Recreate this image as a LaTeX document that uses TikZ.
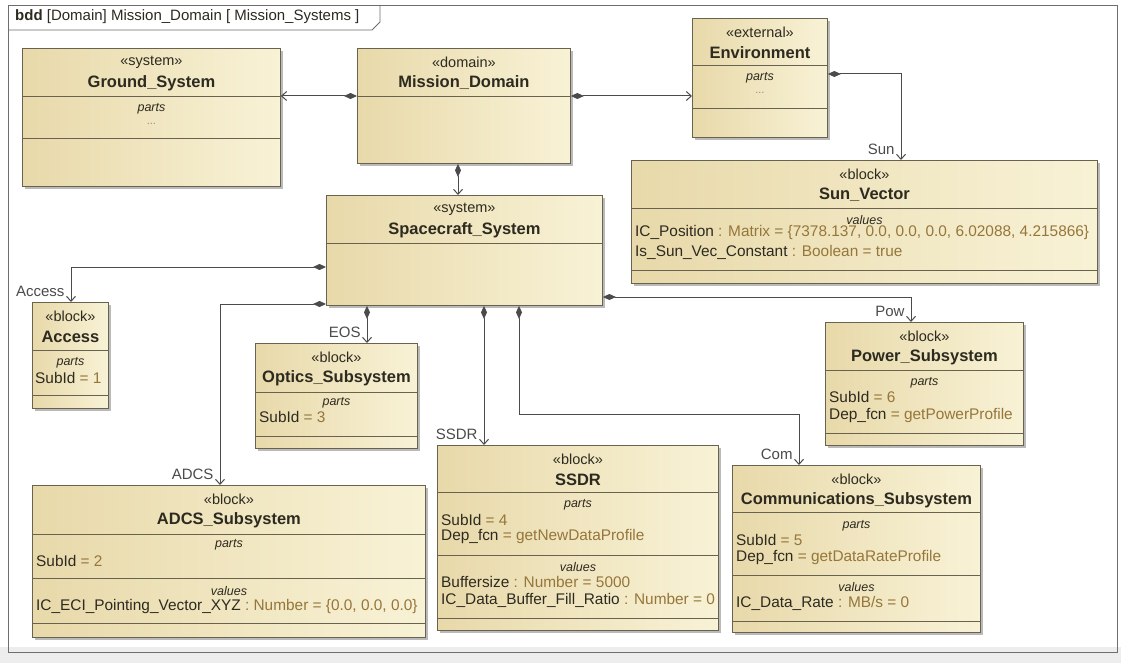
\documentclass[tikz,border=0pt]{standalone}
\usepackage{fontspec}
\setmainfont{Liberation Sans}
\usepackage{xcolor}
\definecolor{bddline}{RGB}{105,98,78}
\definecolor{bddtan}{RGB}{232,217,170}
\definecolor{bddcream}{RGB}{248,242,214}
\definecolor{bddtext}{RGB}{45,42,32}
\definecolor{bddval}{RGB}{150,118,58}
\definecolor{bddlink}{RGB}{75,75,75}
\definecolor{bddframe}{RGB}{110,110,110}
\usetikzlibrary{arrows.meta,positioning,calc,shadows}

\newcommand{\val}[1]{\textcolor{bddval}{#1}}

\tikzset{
  umlbox/.style={draw=bddline, line width=0.9pt, left color=bddtan, right color=bddcream, inner sep=0pt,
    drop shadow={shadow xshift=2.5pt, shadow yshift=-2.5pt, fill=black!45, opacity=0.6}},
  divider/.style={bddline, line width=0.9pt},
  stereo/.style={font=\fontsize{14.5}{16}\selectfont, text=bddtext, inner sep=0pt},
  bname/.style={font=\fontsize{16.5}{18}\selectfont\bfseries, text=bddtext, inner sep=0pt},
  clabel/.style={font=\fontsize{12.5}{14}\selectfont\itshape, text=bddtext, inner sep=0pt},
  dots/.style={font=\fontsize{11}{12}\selectfont, text=black!45, inner sep=0pt},
  attr/.style={font=\fontsize{15.4}{18}\selectfont, text=bddtext, anchor=west, xshift=4pt, inner sep=0pt},
  comp/.style={draw=bddlink, line width=1pt, {Diamond[length=13pt,width=6pt]}-{Straight Barb[length=5pt,width=9pt]}},
  role/.style={font=\fontsize{15}{17}\selectfont, text=bddlink, inner sep=0pt, anchor=south east, xshift=-6pt, yshift=5pt},
}

% block: name, left, top, right, bottom, stereotype, title
\newcommand{\bddblock}[7]{%
  \node[umlbox, anchor=north west, minimum width={(#4-#2)*1pt}, minimum height={(#5-#3)*1pt}] (#1) at (#2,#3) {};
  \node[stereo] (#1-st) at ($(#1.north)+(0,14)$) {«#6»};
  \node[bname] (#1-nm) at ($(#1.north)+(0,35)$) {#7};
}

\begin{document}
\begin{tikzpicture}[x=1pt, y=-1pt]
  \useasboundingbox (0,0) rectangle (1121,663);
  \fill[white] (0,0) rectangle (1121,663);
  \fill[black!7] (0,647) rectangle (1121,663);

  % Diagram frame
  \draw[bddframe, line width=0.8pt] (8,5) rectangle (1117,652);
  \draw[bddframe, line width=0.8pt] (8,30) -- (372,30) -- (380,22) -- (380,5);
  \node[anchor=west, font=\fontsize{15}{17}\selectfont, text=bddtext, inner sep=0pt] (hdr) at (15,17)
    {\textbf{bdd} [Domain] Mission\_Domain [ Mission\_Systems ]};

  % Top level blocks
  \bddblock{ground}{22}{48}{280}{186}{system}{Ground\_System}
  \foreach \y in {96,138} \draw[divider] (ground.west |- 0,\y) -- (ground.east |- 0,\y);
  \node[clabel] (ground-parts) at (ground.north |- 0,109) {parts};
  \node[dots] (ground-dots) at (ground.north |- 0,124) {...};

  \bddblock{mission}{357}{48}{570}{163}{domain}{Mission\_Domain}
  \draw[divider] (mission.west |- 0,96) -- (mission.east |- 0,96);

  \bddblock{env}{692}{18}{827}{137}{external}{Environment}
  \foreach \y in {65,108} \draw[divider] (env.west |- 0,\y) -- (env.east |- 0,\y);
  \node[clabel] (env-parts) at (env.north |- 0,78) {parts};
  \node[dots] (env-dots) at (env.north |- 0,93) {...};

  \bddblock{sun}{631}{160}{1097}{283}{block}{Sun\_Vector}
  \foreach \y in {208,270} \draw[divider] (sun.west |- 0,\y) -- (sun.east |- 0,\y);
  \node[clabel] (sun-values) at (sun.north |- 0,220) {values};
  \node[attr] (sun-a1) at (sun.west |- 0,233) {IC\_Position \val{: Matrix = \{7378.137, 0.0, 0.0, 0.0, 6.02088, 4.215866\}}};
  \node[attr] (sun-a2) at (sun.west |- 0,252) {Is\_Sun\_Vec\_Constant \val{: Boolean = true}};

  \bddblock{space}{326}{195}{602}{305}{system}{Spacecraft\_System}
  \draw[divider] (space.west |- 0,243) -- (space.east |- 0,243);

  % Subsystem blocks
  \bddblock{access}{32}{302}{108}{408}{block}{Access}
  \foreach \y in {350,395} \draw[divider] (access.west |- 0,\y) -- (access.east |- 0,\y);
  \node[clabel] (access-parts) at (access.north |- 0,363) {parts};
  \node[attr, xshift=-1pt] (access-a1) at (access.west |- 0,378) {SubId \val{= 1}};

  \bddblock{optics}{255}{343}{417}{448}{block}{Optics\_Subsystem}
  \foreach \y in {392,436} \draw[divider] (optics.west |- 0,\y) -- (optics.east |- 0,\y);
  \node[clabel] (optics-parts) at (optics.north |- 0,403) {parts};
  \node[attr] (optics-a1) at (optics.west |- 0,417) {SubId \val{= 3}};

  \bddblock{power}{825}{322}{1023}{445}{block}{Power\_Subsystem}
  \foreach \y in {370,433} \draw[divider] (power.west |- 0,\y) -- (power.east |- 0,\y);
  \node[clabel] (power-parts) at (power.north |- 0,383) {parts};
  \node[attr] (power-a1) at (power.west |- 0,397) {SubId \val{= 6}};
  \node[attr] (power-a2) at (power.west |- 0,416) {Dep\_fcn \val{= getPowerProfile}};

  \bddblock{adcs}{32}{485}{425}{637}{block}{ADCS\_Subsystem}
  \foreach \y in {534,578,623} \draw[divider] (adcs.west |- 0,\y) -- (adcs.east |- 0,\y);
  \node[clabel] (adcs-parts) at (adcs.north |- 0,545) {parts};
  \node[attr] (adcs-a1) at (adcs.west |- 0,561) {SubId \val{= 2}};
  \node[clabel] (adcs-values) at (adcs.north |- 0,591) {values};
  \node[attr] (adcs-a2) at (adcs.west |- 0,607) {IC\_ECI\_Pointing\_Vector\_XYZ \val{: Number = \{0.0, 0.0, 0.0\}}};

  \bddblock{ssdr}{437}{445}{718}{630}{block}{SSDR}
  \foreach \y in {492,555,618} \draw[divider] (ssdr.west |- 0,\y) -- (ssdr.east |- 0,\y);
  \node[clabel] (ssdr-parts) at (ssdr.north |- 0,505) {parts};
  \node[attr] (ssdr-a1) at (ssdr.west |- 0,520) {SubId \val{= 4}};
  \node[attr] (ssdr-a2) at (ssdr.west |- 0,537) {Dep\_fcn \val{= getNewDataProfile}};
  \node[clabel] (ssdr-values) at (ssdr.north |- 0,567) {values};
  \node[attr] (ssdr-a3) at (ssdr.west |- 0,582) {Buffersize \val{: Number = 5000}};
  \node[attr] (ssdr-a4) at (ssdr.west |- 0,600) {IC\_Data\_Buffer\_Fill\_Ratio \val{: Number = 0}};

  \bddblock{comm}{732}{465}{980}{632}{block}{Communications\_Subsystem}
  \foreach \y in {512,575,621} \draw[divider] (comm.west |- 0,\y) -- (comm.east |- 0,\y);
  \node[clabel] (comm-parts) at (comm.north |- 0,526) {parts};
  \node[attr] (comm-a1) at (comm.west |- 0,540) {SubId \val{= 5}};
  \node[attr] (comm-a2) at (comm.west |- 0,558) {Dep\_fcn \val{= getDataRateProfile}};
  \node[clabel] (comm-values) at (comm.north |- 0,587) {values};
  \node[attr] (comm-a3) at (comm.west |- 0,603) {IC\_Data\_Rate \val{: MB/s = 0}};

  % Composition links
  \draw[comp] (mission.west |- 0,96) -- (ground.east |- 0,96);
  \draw[comp] (mission.east |- 0,96) -- (env.west |- 0,96);
  \draw[comp] (env.east |- 0,74) -| (sun.north -| 901,0) node[role] (lbl-sun) {Sun};
  \draw[comp] (mission.south -| 458,0) -- (space.north -| 458,0);
  \draw[comp] (space.west |- 0,267) -| (access.north -| 71,0) node[role] (lbl-access) {Access};
  \draw[comp] (space.west |- 0,304) -| (adcs.north -| 220,0) node[role] (lbl-adcs) {ADCS};
  \draw[comp] (space.south -| 367,0) -- (optics.north -| 367,0) node[role] (lbl-eos) {EOS};
  \draw[comp] (space.south -| 484,0) -- (ssdr.north -| 484,0) node[role] (lbl-ssdr) {SSDR};
  \coordinate (combend) at (519,414);
  \draw[comp] (space.south -| 519,0) -- (combend) -| (comm.north -| 799,0) node[role] (lbl-com) {Com};
  \draw[comp] (space.east |- 0,297) -| (power.north -| 911,0) node[role] (lbl-pow) {Pow};
\end{tikzpicture}
\end{document}
